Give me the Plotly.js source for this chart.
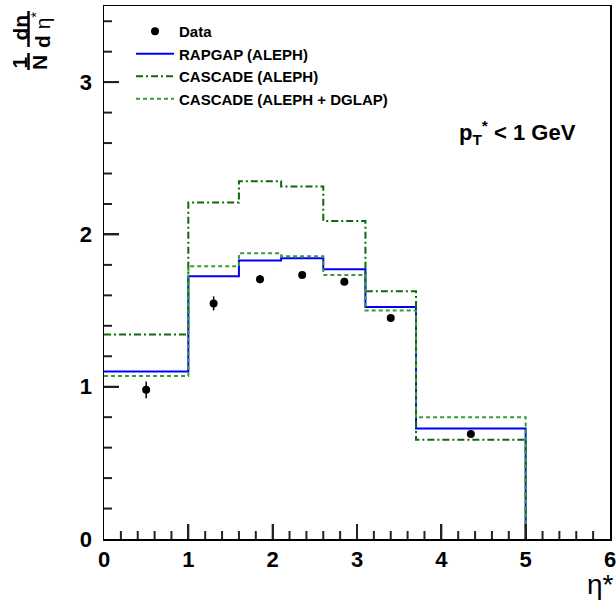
<!DOCTYPE html>
<html>
<head>
<meta charset="utf-8">
<script src="https://cdn.plot.ly/plotly-3.0.1.min.js"></script>
<style>html,body{margin:0;padding:0;background:#fff;}#chart{width:616px;height:601px;}</style>
</head>
<body>
<div id="chart"></div>
<script>
// ---- data ----
const binEdges = [0, 1, 1.6, 2.1, 2.6, 3.1, 3.7, 5];
const rapgap = [1.10, 1.726, 1.829, 1.844, 1.772, 1.524, 0.726];
const cascade = [1.343, 2.209, 2.349, 2.314, 2.089, 1.627, 0.652];
const cascadeDglap = [1.07, 1.791, 1.877, 1.857, 1.734, 1.50, 0.80];
const dataX = [0.5, 1.3, 1.85, 2.35, 2.85, 3.4, 4.35];
const dataY = [0.98, 1.547, 1.706, 1.734, 1.689, 1.452, 0.689];
const dataErr = [0.055, 0.046, 0.027, 0.02, 0.02, 0.015, 0.012];
const xRange = [0, 6];
const yRange = [0, 3.5];
const minorStep = 0.2;

// histogram outline from edges + contents (left edge lies on the axis, right edge drops to 0)
function histXY(edges, vals) {
  const x = [], y = [];
  for (let i = 0; i < vals.length; i++) { x.push(edges[i]); y.push(vals[i]); }
  x.push(edges[edges.length - 1]); y.push(vals[vals.length - 1]);
  x.push(edges[edges.length - 1]); y.push(0);
  return {x, y};
}

const FONT = 'Liberation Sans, Arial, Helvetica, sans-serif';
const h1 = histXY(binEdges, rapgap), h2 = histXY(binEdges, cascade), h3 = histXY(binEdges, cascadeDglap);

const traces = [
  {x: h1.x, y: h1.y, mode: 'lines', line: {shape: 'hv', color: '#0000ff', width: 2}, name: 'RAPGAP (ALEPH)', legendrank: 2},
  {x: h2.x, y: h2.y, mode: 'lines', line: {shape: 'hv', color: '#0b6b0b', width: 2, dash: '7px,3px,2px,3px'}, name: 'CASCADE (ALEPH)', legendrank: 3},
  {x: h3.x, y: h3.y, mode: 'lines', line: {shape: 'hv', color: '#3a9a3a', width: 2, dash: '4px,3px'}, name: 'CASCADE (ALEPH + DGLAP)', legendrank: 4},
  {x: dataX, y: dataY, mode: 'markers', marker: {color: 'black', size: 8, symbol: 'circle'},
   error_y: {type: 'data', array: dataErr, visible: true, color: 'black', thickness: 1.5, width: 0},
   name: 'Data', legendrank: 1}
];

// pixel -> paper helpers (plot area 104..610 x 6..539)
const L = 104, R = 610, T = 6, B = 539;
const px = p => (p - L) / (R - L);
const py = p => (B - p) / (B - T);

const axisCommon = {
  showline: true, linecolor: 'black', linewidth: 1.5, mirror: true,
  ticks: 'inside', ticklen: 15, tickwidth: 2, tickcolor: '#222222',
  tickmode: 'linear', tick0: 0, dtick: 1,
  showgrid: false, zeroline: false, ticklabeloverflow: 'allow',
  tickfont: {family: FONT, size: 22, color: 'black', weight: 'bold'}
};

// tick marks (long at integers, short every 0.2) as paper-referenced shapes along the axes
const tickShapes = [];
const nx = Math.round((xRange[1] - xRange[0]) / minorStep);
for (let i = 1; i < nx; i++) {
  const v = xRange[0] + i * minorStep;
  const isMajor = Math.abs(v - Math.round(v)) < 1e-6;
  const len = isMajor ? 15 : 8;
  const f = (v - xRange[0]) / (xRange[1] - xRange[0]);
  tickShapes.push({type: 'line', xref: 'paper', yref: 'paper', layer: 'above', x0: f, x1: f, y0: 0, y1: len / (B - T),
    line: {color: '#222222', width: 2}});
}
const ny = Math.round((yRange[1] - yRange[0]) / minorStep);
for (let i = 1; i <= ny; i++) {
  const v = yRange[0] + i * minorStep;
  if (v > yRange[1] - 1e-6) continue;
  const isMajor = Math.abs(v - Math.round(v)) < 1e-6;
  const len = isMajor ? 15 : 8;
  const f = (v - yRange[0]) / (yRange[1] - yRange[0]);
  tickShapes.push({type: 'line', xref: 'paper', yref: 'paper', layer: 'above', y0: f, y1: f, x0: 0, x1: len / (R - L),
    line: {color: '#222222', width: 2}});
}

const layout = {
  width: 616, height: 601,
  margin: {l: L, r: 616 - R, t: T, b: 601 - B, pad: 0},
  paper_bgcolor: 'white', plot_bgcolor: 'white',
  font: {family: FONT, color: 'black'},
  xaxis: Object.assign({}, axisCommon, {range: xRange, ticklabelstandoff: 0}),
  yaxis: Object.assign({}, axisCommon, {range: yRange, ticklabelstandoff: 6}),
  showlegend: true,
  legend: {x: px(131), y: py(15), xanchor: 'left', yanchor: 'top', bgcolor: 'rgba(0,0,0,0)',
           font: {family: FONT, size: 15, color: 'black', weight: 'bold'}, tracegroupgap: 0, itemwidth: 38},
  annotations: [
    {xref: 'paper', yref: 'paper', x: px(517), y: py(133), xanchor: 'center', yanchor: 'middle', showarrow: false,
     text: 'p<sub>T</sub><sup>*</sup> &lt; 1 GeV', font: {family: FONT, size: 22, color: 'black', weight: 'bold'}},
    {xref: 'paper', yref: 'paper', x: px(616), y: py(567), xanchor: 'right', yanchor: 'top', showarrow: false,
     text: 'η*', font: {family: FONT, size: 28, color: 'black'}},
    {xref: 'paper', yref: 'paper', x: px(19), y: py(62.5), xanchor: 'center', yanchor: 'middle', showarrow: false, textangle: -90,
     text: '1', font: {family: FONT, size: 21, color: 'black', weight: 'bold'}},
    {xref: 'paper', yref: 'paper', x: px(39.5), y: py(62.5), xanchor: 'center', yanchor: 'middle', showarrow: false, textangle: -90,
     text: 'N', font: {family: FONT, size: 21, color: 'black', weight: 'bold'}},
    {xref: 'paper', yref: 'paper', x: px(19.5), y: py(28), xanchor: 'center', yanchor: 'middle', showarrow: false, textangle: -90,
     text: 'dn', font: {family: FONT, size: 21, color: 'black', weight: 'bold'}},
    {xref: 'paper', yref: 'paper', x: px(41), y: py(30), xanchor: 'center', yanchor: 'middle', showarrow: false, textangle: -90,
     text: '<b>d</b> η<sup>*</sup>', font: {family: FONT, size: 21, color: 'black'}}
  ],
  shapes: [
    {type: 'line', xref: 'paper', yref: 'paper', x0: px(28.5), x1: px(28.5), y0: py(53), y1: py(70), line: {color: 'black', width: 2.5}},
    {type: 'line', xref: 'paper', yref: 'paper', x0: px(28.5), x1: px(28.5), y0: py(11), y1: py(47), line: {color: 'black', width: 2.5}}
  ].concat(tickShapes)
};

Plotly.newPlot('chart', traces, layout, {displayModeBar: false, staticPlot: true});
</script>
</body>
</html>
